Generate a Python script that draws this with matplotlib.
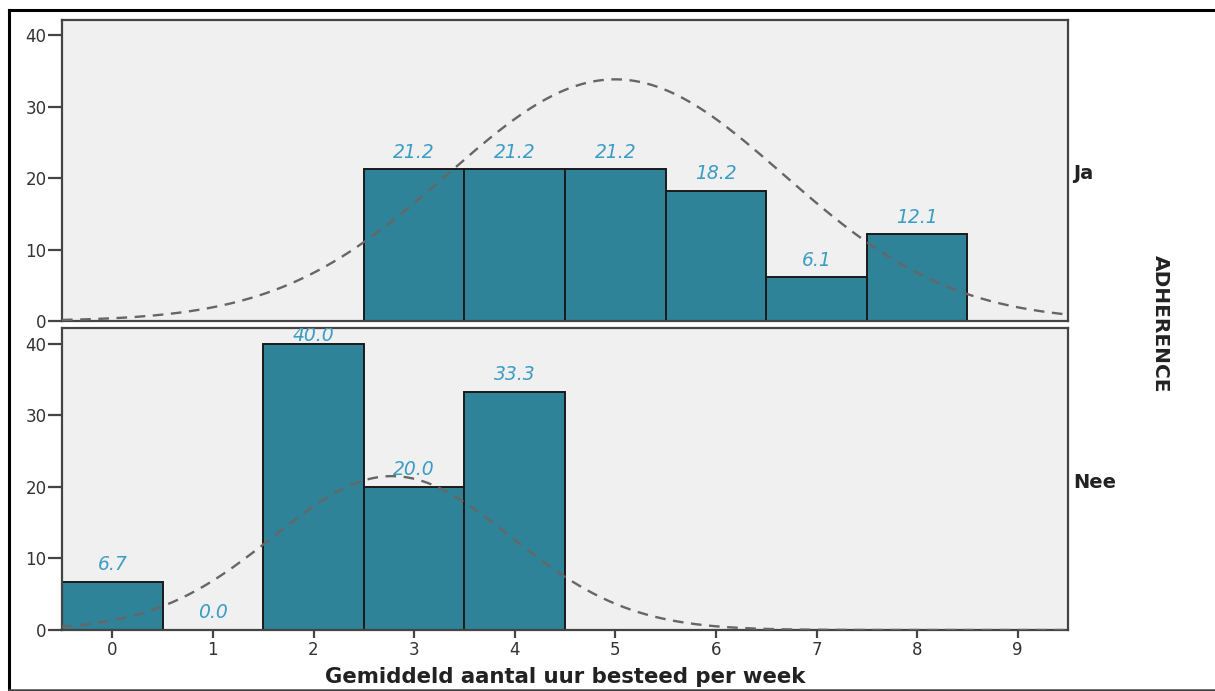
import numpy as np
import matplotlib
matplotlib.use("Agg")
import matplotlib.pyplot as plt
from matplotlib.lines import Line2D

# ---- data ----
hours = [0, 1, 2, 3, 4, 5, 6, 7, 8, 9]
ja_bins = [3, 4, 5, 6, 7, 8]
ja_pct = [21.2, 21.2, 21.2, 18.2, 6.1, 12.1]
nee_bins = [0, 1, 2, 3, 4]
nee_pct = [6.7, 0.0, 40.0, 20.0, 33.3]
# fitted normal curves (mean, sd, peak height in %)
ja_curve = (5.0, 1.67, 33.8)
nee_curve = (2.78, 1.18, 21.5)
yticks = [0, 10, 20, 30, 40]
groups = ["Ja", "Nee"]
xlabel = "Gemiddeld aantal uur besteed per week"
panel_title = "ADHERENCE"

BAR = "#2e8399"
LAB = "#3b9cc4"
BG = "#f0f0f0"
SP = "#444444"

W, H = 1215, 691
fig = plt.figure(figsize=(W / 100, H / 100), dpi=100)
plt.rcParams["font.family"] = ["DejaVu Sans"]

ax_top = fig.add_axes([62 / W, 1 - 321 / H, 1006 / W, 301 / H])
ax_bot = fig.add_axes([62 / W, 1 - 630 / H, 1006 / W, 302 / H])

panels = [
    (ax_top, ja_bins, ja_pct, ja_curve, groups[0], 42.1),
    (ax_bot, nee_bins, nee_pct, nee_curve, groups[1], 42.2),
]

xs = np.linspace(-0.5, 9.5, 400)
for ax, bins, pct, (mu, sd, peak), grp, ytop in panels:
    ax.set_facecolor(BG)
    ax.bar(bins, pct, width=1.0, color=BAR, edgecolor="#1a1a1a", linewidth=1.4, zorder=2)
    curve = peak * np.exp(-((xs - mu) ** 2) / (2 * sd ** 2))
    ax.plot(xs, curve, color="#666666", lw=1.7, ls=(0, (4.5, 3.2)), zorder=3)
    for b, v in zip(bins, pct):
        y = min(v + 1.65, ytop - 1.8)
        ax.text(b, y, f"{v:.1f}", color=LAB, fontsize=13.5, style="italic",
                ha="center", va="baseline", zorder=4, clip_on=True)
    ax.set_xlim(-0.5, 9.5)
    ax.set_ylim(0, ytop)
    ax.set_yticks(yticks)
    ax.set_xticks(hours)
    for s in ax.spines.values():
        s.set_color(SP)
        s.set_linewidth(1.6)
    ax.tick_params(axis="y", length=10, width=1.6, color=SP, pad=1,
                   labelsize=12, labelcolor="#333333")
    ax.text(1.005, 0.49, grp, transform=ax.transAxes, ha="left", va="center",
            fontsize=14, fontweight="bold", color="#222222")

ax_top.tick_params(axis="x", bottom=False, labelbottom=False)
ax_bot.tick_params(axis="x", length=6, width=1.6, color=SP, pad=2,
                   labelsize=12, labelcolor="#333333")
ax_bot.set_xlabel(xlabel, fontsize=15.3, fontweight="bold", color="#222222", labelpad=6)

fig.text(1160 / W, 1 - 324 / H, panel_title, rotation=-90, ha="center", va="center",
         fontsize=14.5, fontweight="bold", color="#222222")

# figure frame (top, left, bottom)
fig.add_artist(Line2D([8.5 / W, 1], [1 - 9.5 / H, 1 - 9.5 / H], transform=fig.transFigure,
                      color="black", lw=2.2))
fig.add_artist(Line2D([8.5 / W, 8.5 / W], [1 - 9.5 / H, 1 - 690 / H], transform=fig.transFigure,
                      color="black", lw=2.2))
fig.add_artist(Line2D([8.5 / W, 1], [1 - 690 / H, 1 - 690 / H], transform=fig.transFigure,
                      color="#444444", lw=1.8))

fig.savefig("out.png", dpi=100)
